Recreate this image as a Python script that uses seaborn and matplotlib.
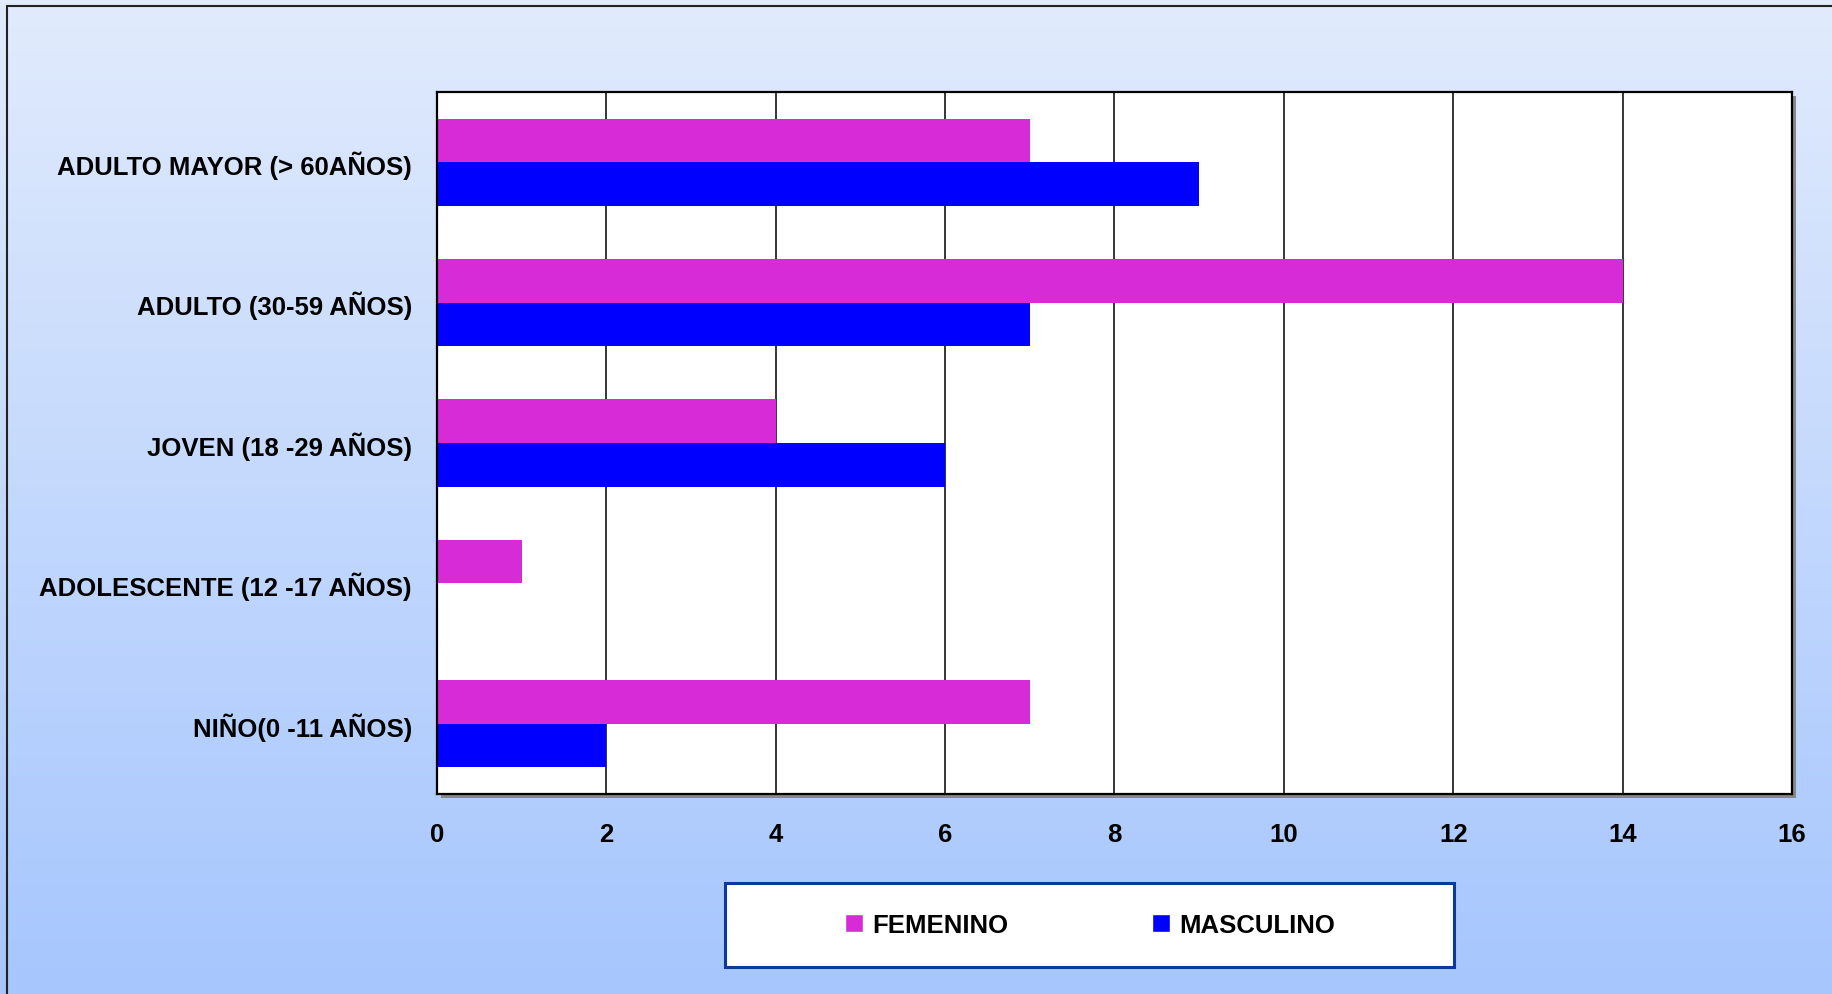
import numpy as np
import pandas as pd
import matplotlib
matplotlib.use("Agg")
import matplotlib.pyplot as plt
import seaborn as sns
from matplotlib.patches import Rectangle

grupos = ["ADULTO MAYOR (> 60AÑOS)", "ADULTO (30-59 AÑOS)", "JOVEN (18 -29 AÑOS)",
          "ADOLESCENTE (12 -17 AÑOS)", "NIÑO(0 -11 AÑOS)"]
femenino = [7, 14, 4, 1, 7]
masculino = [9, 7, 6, 0, 2]
sexos = ["FEMENINO", "MASCULINO"]
colores = ["#D62BD6", "#0000FF"]
x_ticks = [0, 2, 4, 6, 8, 10, 12, 14, 16]

df = pd.DataFrame({
    "grupo": grupos * 2,
    "sexo": [sexos[0]] * len(grupos) + [sexos[1]] * len(grupos),
    "casos": femenino + masculino,
})

sns.set_style("white")
plt.rcParams["font.family"] = ["Liberation Sans Narrow", "Liberation Sans", "DejaVu Sans"]
plt.rcParams["font.weight"] = "bold"
plt.rcParams["text.color"] = "black"
plt.rcParams["xtick.color"] = "black"
plt.rcParams["ytick.color"] = "black"

W, H = 1833, 995
fig = plt.figure(figsize=(W / 100, H / 100), dpi=100)

# fondo degradado
bg = fig.add_axes([0, 0, 1, 1], zorder=-10)
grad = np.linspace(0, 1, 256).reshape(-1, 1)
cmap = matplotlib.colors.LinearSegmentedColormap.from_list("bg", ["#E1EBFC", "#A6C6FE"])
bg.imshow(grad, aspect="auto", cmap=cmap, extent=[0, 1, 0, 1], origin="upper")
bg.set_xlim(0, 1); bg.set_ylim(0, 1)
bg.axis("off")
bg.add_patch(Rectangle((7 / W, -0.1), 1.2, 1.1 - 7 / H, fill=False,
                       edgecolor="#222222", linewidth=1.5, transform=bg.transAxes))
# sombra del area de graficado
x0, x1, y0, y1 = 437 / W, 1792 / W, 1 - 795 / H, 1 - 93 / H
bg.add_patch(Rectangle((x0 + 0.002, y0 - 0.004), x1 - x0, y1 - y0,
                       facecolor="#888888", edgecolor="none", transform=bg.transAxes))
# caja de la leyenda
bg.add_patch(Rectangle((725 / W, 1 - 968 / H), 729 / W, 84 / H, facecolor="white",
                       edgecolor="#0A3A9A", linewidth=2.2, transform=bg.transAxes))

ax = fig.add_axes([x0, y0, x1 - x0, y1 - y0])
ax.set_facecolor("white")
sns.barplot(data=df, y="grupo", x="casos", hue="sexo", hue_order=sexos,
            palette=colores, orient="h", width=0.62, saturation=1,
            edgecolor="none", ax=ax, legend=False)

ax.set_xlim(0, 16)
ax.set_xticks(x_ticks)
ax.xaxis.grid(True, color="black", linewidth=1.1)
ax.set_axisbelow(True)
for s in ax.spines.values():
    s.set_color("black")
    s.set_linewidth(1.6)
ax.set_xlabel("")
ax.set_ylabel("")
ax.tick_params(axis="both", length=0, labelsize=18.5)
ax.tick_params(axis="x", pad=20)
ax.tick_params(axis="y", pad=18)
for lab in ax.get_xticklabels() + ax.get_yticklabels():
    lab.set_fontweight("bold")

# leyenda
handles = [Rectangle((0, 0), 1, 1, facecolor=c) for c in colores]
leg = fig.legend(handles, sexos, loc="center", bbox_to_anchor=(1090 / W, 1 - 926 / H),
                 ncol=2, frameon=False, prop={"size": 18.5, "weight": "bold"},
                 handlelength=0.7, handleheight=0.7, handletextpad=0.35, columnspacing=5.6,
                 borderaxespad=0)

fig.savefig("out.png", dpi=100)
